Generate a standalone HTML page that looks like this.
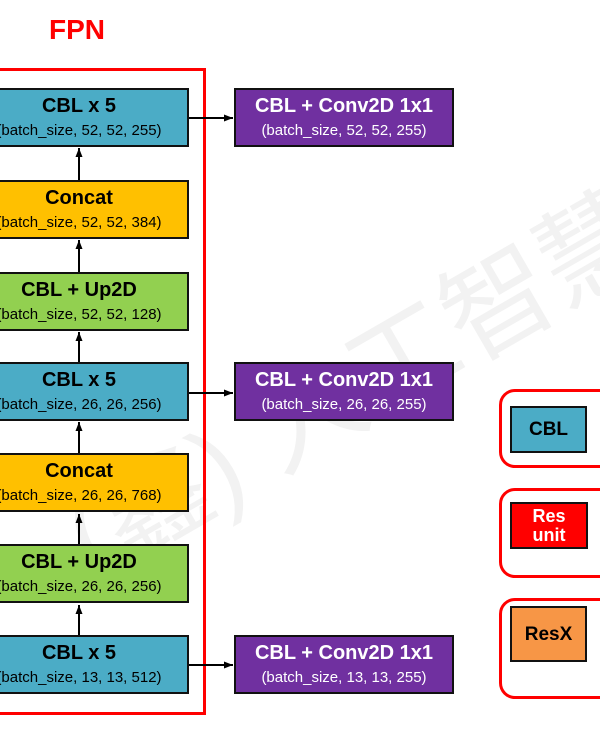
<!DOCTYPE html>
<html><head><meta charset="utf-8"><style>
body{margin:0;width:600px;height:734px;overflow:hidden;background:#fff;position:relative;font-family:"Liberation Sans","Noto Sans CJK TC",sans-serif}
.b{position:absolute;box-sizing:border-box;border:2.5px solid #111;text-align:center;color:#000}
.b .t{font-weight:bold;font-size:20px;line-height:22px;margin-top:5px}
.b .s{font-size:15px;line-height:18px;margin-top:5px;white-space:nowrap}
.c{background:#4bacc6}.y{background:#ffc000}.g{background:#92d050}
.p{background:#7030a0;color:#fff}
.f{left:-31px;width:220px;height:59px}
.q{left:234px;width:220px;height:59px}
.r{position:absolute;border:3px solid #f00;border-radius:16px;box-sizing:border-box}
.l{position:absolute;box-sizing:border-box;border:2.5px solid #111;font-weight:bold;font-size:19px;display:flex;align-items:center;justify-content:center;text-align:center;line-height:19px}
</style></head><body>
<div style="position:absolute;left:30px;top:470px;font-size:110px;color:#f2f2f2;transform:rotate(-30deg);white-space:nowrap;transform-origin:left top;">(鑫) 人工智慧</div>
<div style="position:absolute;left:49px;top:14px;color:#f00;font-weight:bold;font-size:28px">FPN</div>
<div style="position:absolute;left:-10px;top:68px;width:216px;height:647px;border:3px solid #f00;box-sizing:border-box"></div>
<svg style="position:absolute;left:0;top:0" width="600" height="734">
<defs><marker id="a" markerUnits="userSpaceOnUse" markerWidth="9" markerHeight="8" refX="9" refY="4" orient="auto"><path d="M0,0.5 L9,4 L0,7.5z" fill="#000"/></marker></defs>
<g stroke="#000" stroke-width="2" marker-end="url(#a)">
<line x1="79" y1="180" x2="79" y2="148"/><line x1="79" y1="272" x2="79" y2="240"/>
<line x1="79" y1="362" x2="79" y2="332"/><line x1="79" y1="453" x2="79" y2="422"/>
<line x1="79" y1="544" x2="79" y2="514"/><line x1="79" y1="635" x2="79" y2="605"/>
<line x1="189" y1="118" x2="233" y2="118"/><line x1="189" y1="393" x2="233" y2="393"/>
<line x1="189" y1="665" x2="233" y2="665"/>
</g></svg>
<div class="b c f" style="top:88px"><div class="t">CBL x 5</div><div class="s">(batch_size, 52, 52, 255)</div></div>
<div class="b y f" style="top:180px"><div class="t">Concat</div><div class="s">(batch_size, 52, 52, 384)</div></div>
<div class="b g f" style="top:272px"><div class="t">CBL + Up2D</div><div class="s">(batch_size, 52, 52, 128)</div></div>
<div class="b c f" style="top:362px"><div class="t">CBL x 5</div><div class="s">(batch_size, 26, 26, 256)</div></div>
<div class="b y f" style="top:453px"><div class="t">Concat</div><div class="s">(batch_size, 26, 26, 768)</div></div>
<div class="b g f" style="top:544px"><div class="t">CBL + Up2D</div><div class="s">(batch_size, 26, 26, 256)</div></div>
<div class="b c f" style="top:635px"><div class="t">CBL x 5</div><div class="s">(batch_size, 13, 13, 512)</div></div>
<div class="b p q" style="top:88px"><div class="t">CBL + Conv2D 1x1</div><div class="s">(batch_size, 52, 52, 255)</div></div>
<div class="b p q" style="top:362px"><div class="t">CBL + Conv2D 1x1</div><div class="s">(batch_size, 26, 26, 255)</div></div>
<div class="b p q" style="top:635px"><div class="t">CBL + Conv2D 1x1</div><div class="s">(batch_size, 13, 13, 255)</div></div>
<div class="r" style="left:499px;top:389px;width:130px;height:79px"></div>
<div class="r" style="left:499px;top:488px;width:130px;height:90px"></div>
<div class="r" style="left:499px;top:598px;width:130px;height:101px"></div>
<div class="l" style="left:510px;top:406px;width:77px;height:47px;background:#4bacc6">CBL</div>
<div class="l" style="left:510px;top:502px;width:78px;height:47px;background:#f00;color:#fff;font-size:18px">Res<br>unit</div>
<div class="l" style="left:510px;top:606px;width:77px;height:56px;background:#f79646">ResX</div>
</body></html>
